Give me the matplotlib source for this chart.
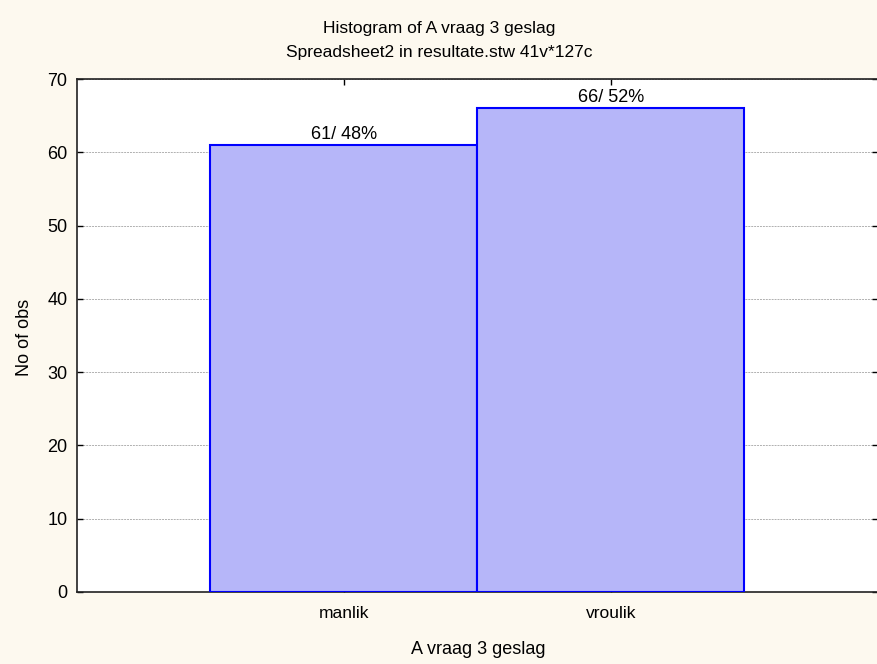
import matplotlib
matplotlib.use("Agg")
import matplotlib.pyplot as plt

categories = ["manlik", "vroulik"]
counts = [61, 66]
percents = [48, 52]
yticks = [0, 10, 20, 30, 40, 50, 60, 70]

plt.rcParams['font.family'] = ['Liberation Sans', 'DejaVu Sans']

bg = '#FDF9EF'
fig = plt.figure(figsize=(8.78, 6.64), dpi=100, facecolor=bg)
ax = fig.add_axes([77/878, 1 - 592/664, 1 - 77/878, (592 - 79)/664])
ax.set_facecolor('white')

x = list(range(len(categories)))
bars = ax.bar(x, counts, width=1.0, color='#B6B6F9', edgecolor='#0000FF', linewidth=1.5, zorder=3)
for xi, c, p in zip(x, counts, percents):
    ax.text(xi, c + 0.3, f"{c}/ {p}%", ha='center', va='bottom', fontsize=13, zorder=4)

ax.set_xlim(-1, 2)
ax.set_ylim(0, 70)
ax.set_yticks(yticks)
ax.set_xticks(x)
ax.set_xticklabels(categories, fontsize=12.5)
ax.tick_params(axis='y', labelsize=13, direction='in', length=4, right=True, width=1, pad=7)
ax.tick_params(axis='x', direction='in', length=4, width=1, pad=10, top=True)
ax.grid(axis='y', color='#B0B0B0', linestyle=(0, (2, 1)), linewidth=0.7, zorder=0)

for s in ['left', 'top', 'bottom']:
    ax.spines[s].set_linewidth(1.2)
    ax.spines[s].set_color('#222222')
ax.spines['right'].set_visible(False)

fig.text(25/878, 1 - 337/664, "No of obs", rotation=90, ha='center', va='center', fontsize=13)
fig.text(478/878, 1 - 649/664, "A vraag 3 geslag", ha='center', va='center', fontsize=13)

fig.text(0.5, 1 - 28/664, "Histogram of A vraag 3 geslag", ha='center', va='center', fontsize=12.5)
fig.text(0.5, 1 - 53/664, "Spreadsheet2 in resultate.stw 41v*127c", ha='center', va='center', fontsize=12.5)

fig.savefig("out.png", dpi=100, facecolor=bg)
